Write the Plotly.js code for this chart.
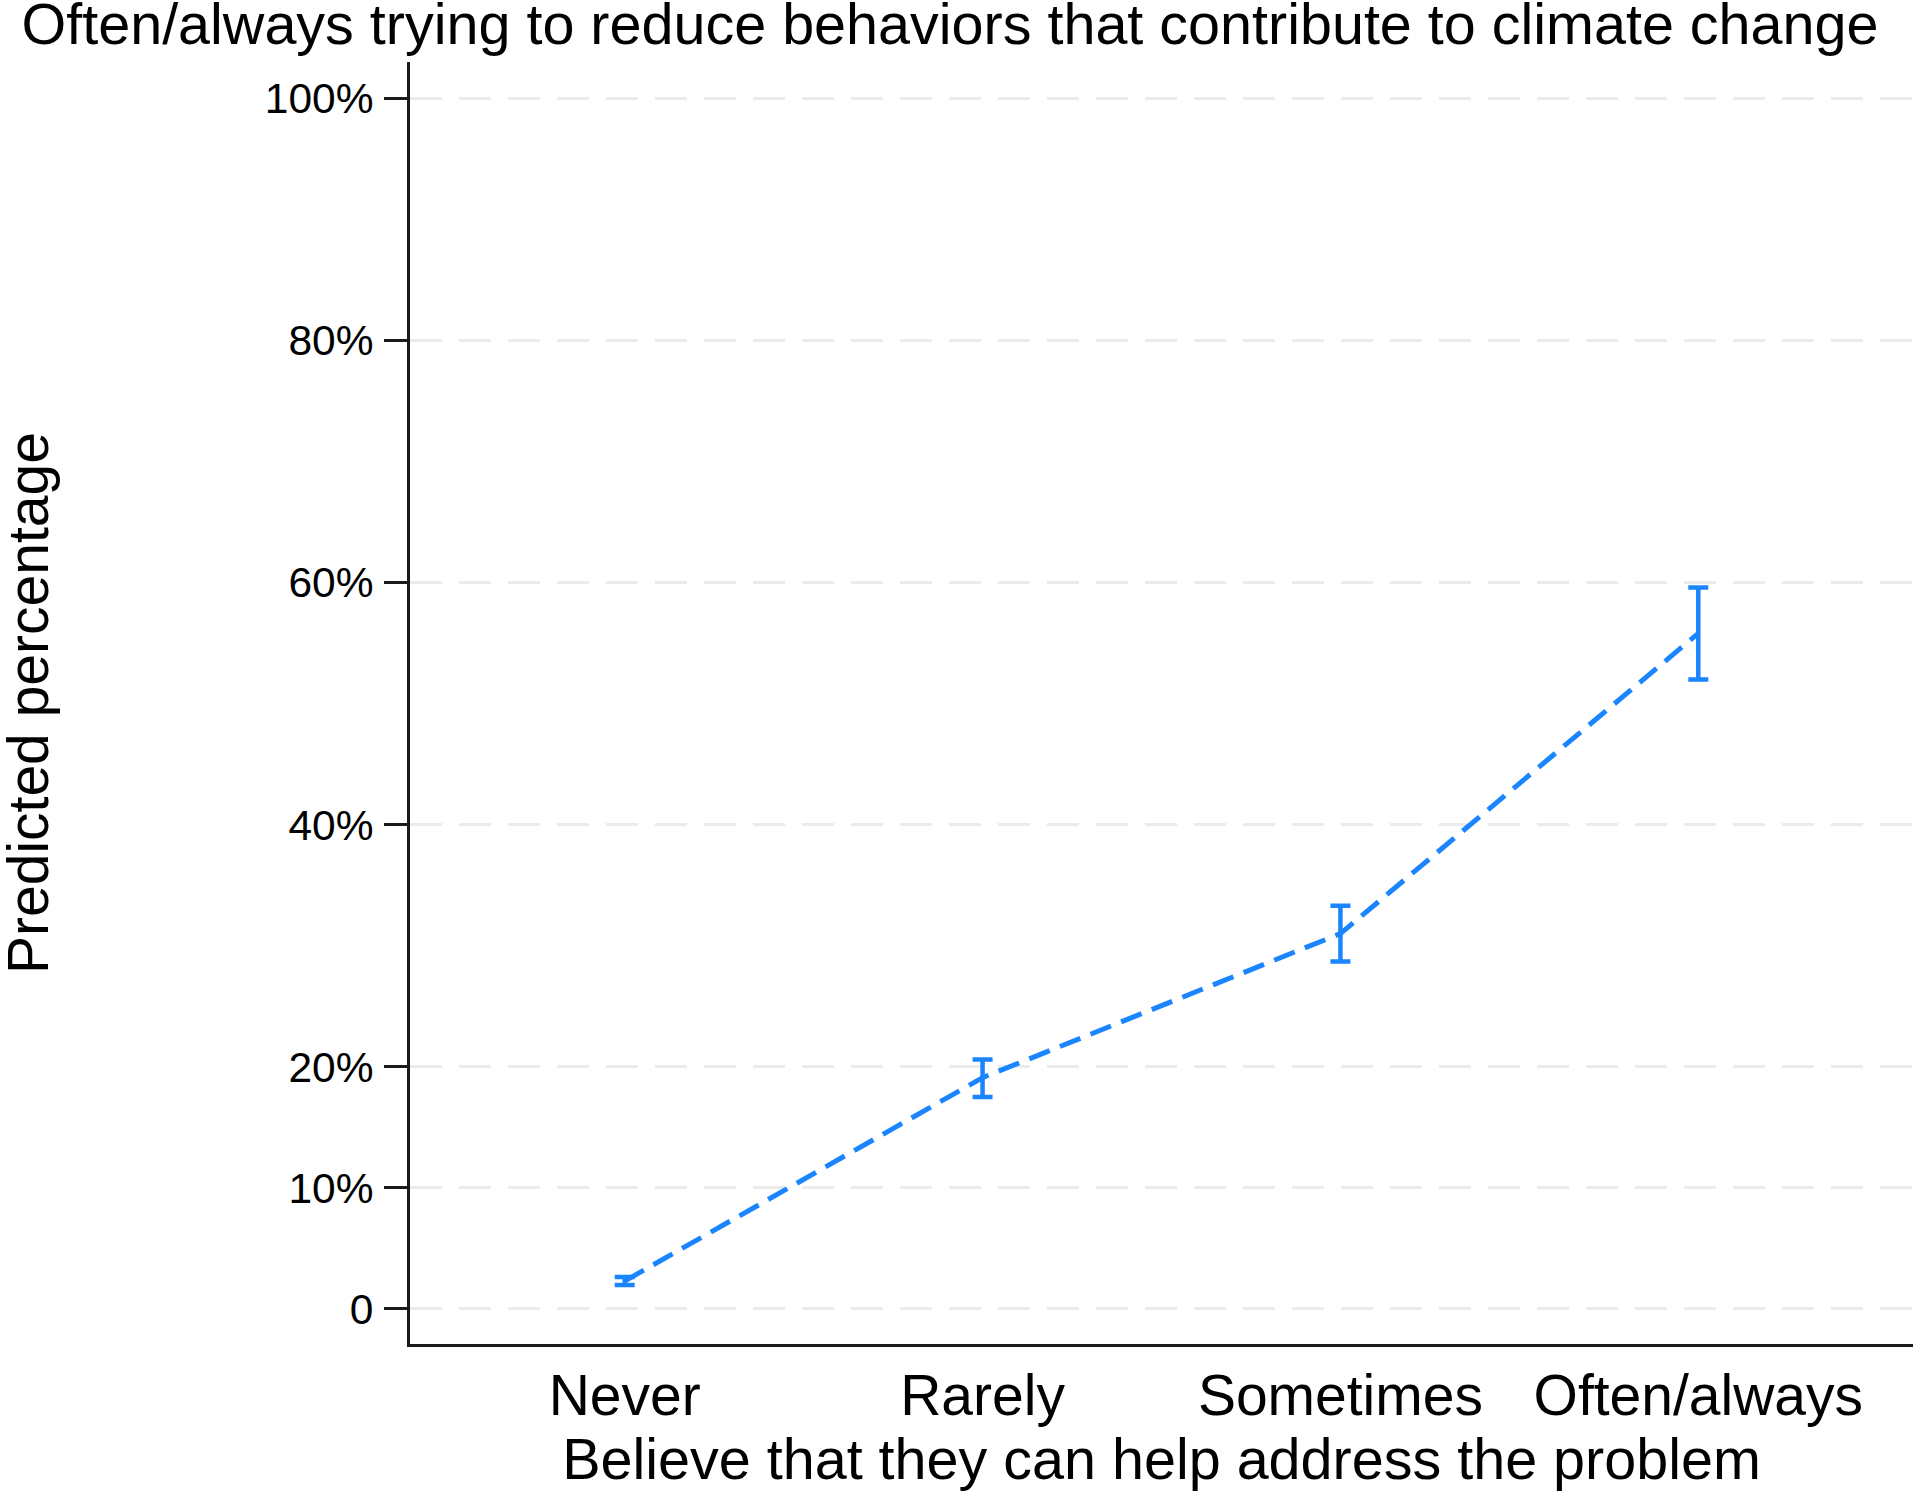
<!DOCTYPE html>
<html>
<head>
<meta charset="utf-8">
<title>Predicted percentage – reducing climate behaviours</title>
<script src="https://cdn.plot.ly/plotly-3.0.1.min.js"></script>
<style>
  html, body { margin: 0; padding: 0; background: #fff; }
  #chart { width: 1913px; height: 1492px; }
</style>
</head>
<body>
<div id="chart"></div>
<script>
'use strict';

/* ============================================================
   DATA
   ============================================================ */
var categories = ['Never', 'Rarely', 'Sometimes', 'Often/always'];
var predicted  = [2.3, 19.1, 31.0, 55.8];   // point estimate, %
var ciLow      = [1.98, 17.5, 28.7, 52.0];  // lower bound, %
var ciHigh     = [2.64, 20.6, 33.3, 59.6];  // upper bound, %

var yTickVals  = [0, 10, 20, 40, 60, 80, 100];
var yTickText  = ['0', '10%', '20%', '40%', '60%', '80%', '100%'];

/* ============================================================
   CHART
   ============================================================ */
var BLUE  = 'rgb(26,133,255)';
var FONT  = 'Liberation Sans, Arial, sans-serif';
var W = 1913, H = 1492;
var M = { t: 62, r: 0, b: 148, l: 410 };

function drawChart() {
  var errPlus  = ciHigh.map(function (v, i) { return v - predicted[i]; });
  var errMinus = predicted.map(function (v, i) { return v - ciLow[i]; });
  var plotW    = W - M.l - M.r;

  Plotly.newPlot('chart', [{
    x: categories,
    y: predicted,
    type: 'scatter', mode: 'lines',
    line: { color: BLUE, width: 5, dash: '22px,11px' },
    error_y: {
      type: 'data', symmetric: false,
      array: errPlus, arrayminus: errMinus,
      color: BLUE, thickness: 4.5, width: 10
    },
    hoverinfo: 'x+y'
  }], {
    width: W, height: H,
    font: { family: FONT, color: '#000' },
    paper_bgcolor: '#fff', plot_bgcolor: '#fff',
    margin: { t: M.t, r: M.r, b: M.b, l: M.l, pad: 0 },
    title: {
      text: 'Often/always trying to reduce behaviors that contribute to climate change',
      font: { family: FONT, size: 57.5, color: '#000' },
      x: 950 / W, xref: 'container', xanchor: 'center',
      y: 1, yref: 'container', yanchor: 'top', pad: { t: 4 }
    },
    xaxis: {
      type: 'category',
      range: [-0.6, 3.6],
      showgrid: false, zeroline: false,
      showline: true, linecolor: '#1a1a1a', linewidth: 3,
      ticks: '',
      tickfont: { family: FONT, size: 57, color: '#000' },
      title: {
        text: 'Believe that they can help address the problem',
        font: { family: FONT, size: 57.5, color: '#000' },
        standoff: 0
      }
    },
    yaxis: {
      range: [-2.9, 103],
      tickvals: yTickVals, ticktext: yTickText,
      showgrid: true, gridcolor: '#ebebeb', gridwidth: 3, griddash: '32px,17px',
      zeroline: false,
      showline: true, linecolor: '#1a1a1a', linewidth: 3,
      ticks: 'outside', ticklen: 23, tickwidth: 3, tickcolor: '#1a1a1a',
      ticklabelstandoff: 2,
      tickfont: { family: FONT, size: 42.5, color: '#000' }
    },
    /* y-axis title sits at the far left edge, so place it as an annotation */
    annotations: [{
      text: 'Predicted percentage',
      font: { family: FONT, size: 57, color: '#000' },
      textangle: -90,
      xref: 'paper', x: -M.l / plotW, xanchor: 'left', xshift: -6,
      yref: 'paper', y: 0.5, yanchor: 'middle',
      showarrow: false
    }],
    showlegend: false
  }, { displayModeBar: false, staticPlot: true });
}

document.addEventListener('DOMContentLoaded', drawChart);
</script>
</body>
</html>
